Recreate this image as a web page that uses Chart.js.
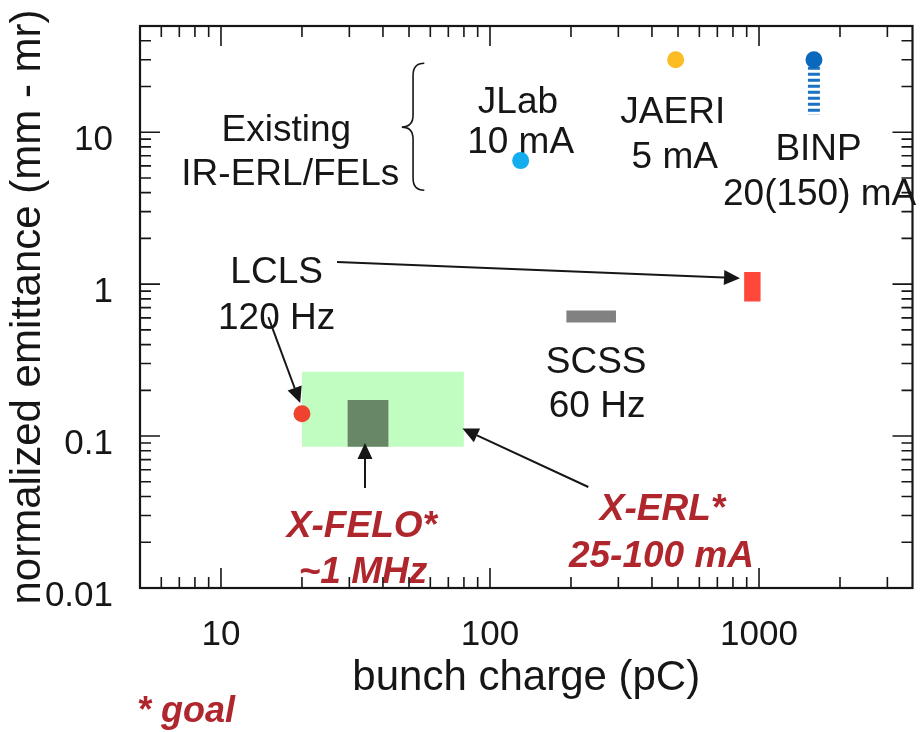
<!DOCTYPE html>
<html>
<head>
<meta charset="utf-8">
<title>Emittance vs bunch charge</title>
<script src="https://cdn.jsdelivr.net/npm/chart.js@4.4.1/dist/chart.umd.min.js"></script>
<style>
  body { margin: 0; background: #fff; }
  #wrap { width: 921px; height: 732px; }
</style>
</head>
<body>
<div id="wrap"><canvas id="chart" width="921" height="732"></canvas></div>
<script>
// axis ranges + labelled ticks
const xRange = [5, 3720];
const yRange = [0.01, 50];
const xTickLabels = [10, 100, 1000];
const yTickLabels = [0.01, 0.1, 1, 10];
const tickMults = [1, 2, 3, 4, 5, 6, 7, 8, 9];

// single machines (dots)
const dotNames = ['JLab', 'JAERI', 'BINP', 'LCLS'];
const dotCharge = [130, 490, 1600, 20];
const dotEmit = [6.5, 30, 30, 0.14];
const dotColors = ['#14adee', '#fbbd23', '#0a69bd', '#ef4330'];

// BINP range bar (striped)
const binpCharge = [1600, 1600];
const binpEmit = [27, 13];

// boxes: charge span, emittance span
const boxNames = ['X-ERL', 'X-FELO', 'LCLS', 'SCSS'];
const boxCharge = [[20, 80], [29.5, 42], [880, 1015], [192, 294]];
const boxEmit = [[0.085, 0.265], [0.085, 0.173], [0.77, 1.2], [0.56, 0.67]];
const boxColors = ['#c1fdc1', '#678767', '#ff473a', '#818181'];

// annotation texts (data coords: centre x, baseline y)
const noteText = ['Existing', 'IR-ERL/FELs', 'JLab', '10 mA', 'JAERI', '5 mA', 'BINP', '20(150) mA', 'LCLS', '120 Hz', 'SCSS', '60 Hz'];
const noteX = [17.5, 18.1, 127, 130, 478, 486, 1665, 1680, 16.1, 16.1, 248, 250];
const noteY = [8.73, 4.48, 13.3, 7.27, 11.46, 5.8, 6.54, 3.31, 1.015, 0.506, 0.26, 0.133];

const goalText = ['X-FELO*', '~1 MHz', 'X-ERL*', '25-100 mA'];
const goalX = [33.4, 33.7, 438, 434];
const goalY = [0.0217, 0.0108, 0.028, 0.01375];

// arrows: from -> to
const arrowFrom = [[27, 1.4], [15, 0.607], [34.3, 0.0455], [232, 0.0462]];
const arrowTo = [[850, 1.095], [19.7, 0.165], [34.3, 0.09], [79, 0.112]];

// brace next to "Existing IR-ERL/FELs"
const braceX = [47, 57];
const braceY = [28.4, 10.8, 4.15];

const ink = '#161616';
const goalRed = '#b0262d';
const family = "'Liberation Sans', Arial, Helvetica, sans-serif";

// every 1..9 x 10^n value inside the range, flagged major for n-th powers
function logTicks(range) {
  const out = [];
  const lo = Math.floor(Math.log10(range[0]));
  const hi = Math.ceil(Math.log10(range[1]));
  for (let e = lo; e <= hi; e++) {
    tickMults.forEach((m) => {
      const v = m * Math.pow(10, e);
      if (v >= range[0] * 0.9999 && v <= range[1] * 1.0001) out.push({v: v, major: m === 1});
    });
  }
  return out;
}

function pickLabel(list) {
  return (v) => {
    const hit = list.find((l) => Math.abs(v / l - 1) < 1e-6);
    return hit === undefined ? '' : String(hit);
  };
}

function drawArrow(ctx, x0, y0, x1, y1) {
  const ang = Math.atan2(y1 - y0, x1 - x0);
  const hl = 16, hw = 7.5;
  const bx = x1 - hl * Math.cos(ang), by = y1 - hl * Math.sin(ang);
  ctx.beginPath();
  ctx.moveTo(x0, y0);
  ctx.lineTo(bx, by);
  ctx.stroke();
  ctx.beginPath();
  ctx.moveTo(x1, y1);
  ctx.lineTo(bx + hw * Math.sin(ang), by - hw * Math.cos(ang));
  ctx.lineTo(bx - hw * Math.sin(ang), by + hw * Math.cos(ang));
  ctx.closePath();
  ctx.fill();
}

const notesPlugin = {
  id: 'notes',
  beforeDatasetsDraw(chart) {
    const {ctx, scales: {x, y}} = chart;
    ctx.save();
    ctx.textAlign = 'center';
    ctx.textBaseline = 'alphabetic';
    ctx.fillStyle = ink;
    ctx.font = '37px ' + family;
    noteText.forEach((t, i) => {
      ctx.fillText(t, x.getPixelForValue(noteX[i]), y.getPixelForValue(noteY[i]));
    });
    ctx.fillStyle = goalRed;
    ctx.font = 'italic bold 37px ' + family;
    goalText.forEach((t, i) => {
      ctx.fillText(t, x.getPixelForValue(goalX[i]), y.getPixelForValue(goalY[i]));
    });
    ctx.textAlign = 'left';
    ctx.font = 'italic bold 36px ' + family;
    ctx.fillText('* goal', chart.chartArea.left - 3, chart.height - 10);

    // brace
    const xl = x.getPixelForValue(braceX[0]);
    const xr = x.getPixelForValue(braceX[1]);
    const xm = (xl + xr) / 2;
    const [yt, ym, yb] = braceY.map((v) => y.getPixelForValue(v));
    ctx.strokeStyle = ink;
    ctx.lineWidth = 1.6;
    ctx.beginPath();
    ctx.moveTo(xr, yt);
    ctx.quadraticCurveTo(xm, yt, xm, yt + 12);
    ctx.lineTo(xm, ym - 12);
    ctx.quadraticCurveTo(xm, ym, xl, ym);
    ctx.quadraticCurveTo(xm, ym, xm, ym + 12);
    ctx.lineTo(xm, yb - 12);
    ctx.quadraticCurveTo(xm, yb, xr, yb);
    ctx.stroke();
    ctx.restore();
  },
  afterDatasetsDraw(chart) {
    const {ctx, scales: {x, y}} = chart;
    ctx.save();
    ctx.strokeStyle = ink;
    ctx.fillStyle = ink;
    ctx.lineWidth = 2;
    arrowFrom.forEach((f, i) => {
      const t = arrowTo[i];
      drawArrow(ctx, x.getPixelForValue(f[0]), y.getPixelForValue(f[1]),
        x.getPixelForValue(t[0]), y.getPixelForValue(t[1]));
    });
    ctx.restore();
  },
  afterDraw(chart) {
    const {ctx, chartArea: a, scales: {x, y}} = chart;
    ctx.save();
    ctx.strokeStyle = ink;
    ctx.lineWidth = 1.6;
    ctx.beginPath();
    logTicks(xRange).forEach((t) => {
      const len = t.major ? 20 : 11;
      const p = x.getPixelForValue(t.v);
      ctx.moveTo(p, a.bottom); ctx.lineTo(p, a.bottom - len);
      ctx.moveTo(p, a.top); ctx.lineTo(p, a.top + len);
    });
    logTicks(yRange).forEach((t) => {
      const len = t.major ? 20 : 11;
      const p = y.getPixelForValue(t.v);
      ctx.moveTo(a.left, p); ctx.lineTo(a.left + len, p);
      ctx.moveTo(a.right, p); ctx.lineTo(a.right - len, p);
    });
    ctx.stroke();
    ctx.lineWidth = 2.2;
    ctx.strokeRect(a.left, a.top, a.right - a.left, a.bottom - a.top);
    ctx.restore();
  }
};

function boxDataset(i, order) {
  return {
    type: 'line',
    label: boxNames[i],
    data: [{x: boxCharge[i][0], y: boxEmit[i][1]}, {x: boxCharge[i][1], y: boxEmit[i][1]}],
    fill: {value: boxEmit[i][0]},
    backgroundColor: boxColors[i],
    borderWidth: 0,
    pointRadius: 0,
    order: order
  };
}

function mainEvent() {
  Chart.defaults.font.family = family;
  const ctx = document.getElementById('chart').getContext('2d');
  const chart = new Chart(ctx, {
    type: 'scatter',
    data: {
      datasets: [
        {
          label: 'machines',
          data: dotCharge.map((c, i) => ({x: c, y: dotEmit[i]})),
          pointBackgroundColor: dotColors,
          pointBorderWidth: 0,
          pointRadius: 8.5,
          order: 1
        },
        {
          type: 'line',
          label: 'BINP range',
          data: binpCharge.map((c, i) => ({x: c, y: binpEmit[i]})),
          borderColor: '#1a72c4',
          borderWidth: 12,
          borderDash: [3, 3],
          borderCapStyle: 'butt',
          pointRadius: 0,
          fill: false,
          order: 2
        },
        boxDataset(3, 3),
        boxDataset(2, 3),
        boxDataset(1, 4),
        boxDataset(0, 5)
      ]
    },
    options: {
      responsive: false,
      animation: false,
      layout: {padding: {top: 26, right: 1, left: 0, bottom: 0}},
      plugins: {legend: {display: false}, tooltip: {enabled: false}},
      scales: {
        x: {
          type: 'logarithmic',
          min: xRange[0],
          max: xRange[1],
          afterFit: (s) => {
            s.height = 144;
            s.paddingLeft = 0;
            s.paddingRight = 0;
          },
          grid: {display: false, drawTicks: false},
          border: {display: false},
          ticks: {
            autoSkip: false,
            maxRotation: 0,
            padding: 26,
            color: ink,
            font: {size: 35},
            callback: pickLabel(xTickLabels)
          },
          title: {
            display: true,
            text: 'bunch charge (pC)',
            color: ink,
            font: {size: 42},
            padding: {top: 0, bottom: 28}
          }
        },
        y: {
          type: 'logarithmic',
          min: yRange[0],
          max: yRange[1],
          afterFit: (s) => {
            s.width = 140;
            s.paddingTop = 0;
            s.paddingBottom = 0;
          },
          grid: {display: false, drawTicks: false},
          border: {display: false},
          ticks: {
            autoSkip: false,
            padding: 27,
            labelOffset: 8,
            color: ink,
            font: {size: 35},
            callback: pickLabel(yTickLabels)
          },
          title: {
            display: true,
            text: 'normalized emittance (mm - mr)',
            color: ink,
            font: {size: 42},
            padding: {top: 3, bottom: 0}
          }
        }
      }
    },
    plugins: [notesPlugin]
  });
  return chart;
}

document.addEventListener('DOMContentLoaded', () => mainEvent());
</script>
</body>
</html>
